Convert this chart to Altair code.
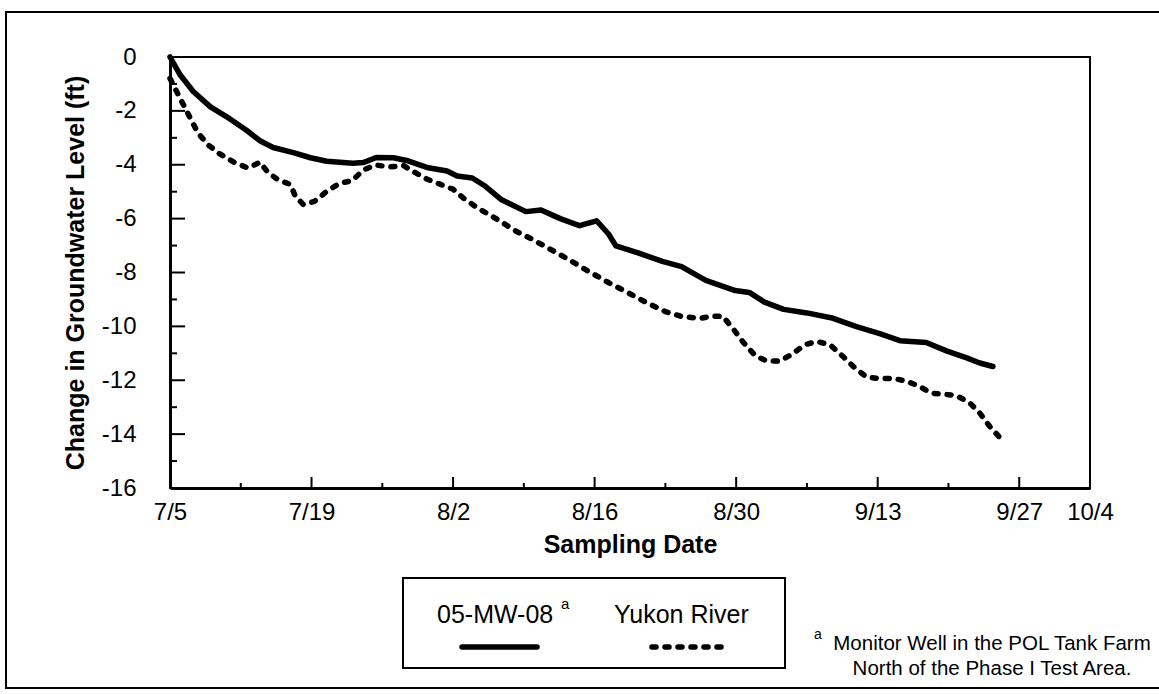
import altair as alt
import pandas as pd

# Change in groundwater level (ft) at monitor well 05-MW-08, by days after 7/5
MW08_DAY = [0, 1.0, 2.3, 4.0, 5.9, 7.6, 8.9, 10.2, 12.2, 13.9, 15.5, 18.1, 19.1,
            20.4, 22.1, 23.4, 25.4, 27.4, 28.4, 29.9, 31.2, 32.8, 35.2, 36.7,
            38.6, 40.5, 42.2, 43.4, 44.1, 46.3, 48.7, 50.6, 53.0, 55.9, 57.3,
            58.8, 60.7, 63.0, 65.6, 67.9, 70.2, 72.2, 74.8, 76.8, 78.8, 80.1, 81.4]
MW08_FT = [0.0, -0.66, -1.28, -1.85, -2.29, -2.73, -3.11, -3.36, -3.55, -3.74,
           -3.87, -3.94, -3.92, -3.73, -3.74, -3.84, -4.10, -4.23, -4.42, -4.49,
           -4.80, -5.30, -5.74, -5.68, -6.00, -6.26, -6.08, -6.58, -7.01, -7.27,
           -7.59, -7.78, -8.29, -8.67, -8.74, -9.10, -9.37, -9.50, -9.70, -10.01,
           -10.27, -10.53, -10.60, -10.91, -11.17, -11.36, -11.49]

# Change in Yukon River stage (ft), same day offsets
YUKON_DAY = [0, 1.0, 1.5, 2.1, 2.8, 3.8, 4.9, 6.3, 7.7, 8.9, 9.7, 10.7, 11.9,
             12.4, 13.2, 14.3, 15.5, 16.8, 18.0, 19.1, 20.3, 21.8, 23.1, 24.2,
             25.4, 26.7, 28.0, 29.0, 30.4, 31.9, 34.3, 35.7, 37.2, 39.6, 41.0,
             43.4, 45.3, 47.2, 49.0, 50.5, 52.4, 53.6, 54.7, 55.7, 56.7, 57.9,
             59.0, 60.3, 61.5, 62.8, 64.0, 65.3, 66.6, 67.8, 68.9, 70.2, 71.5,
             72.7, 74.0, 75.3, 76.5, 77.8, 79.1, 80.1, 81.1, 82.3]
YUKON_FT = [-0.80, -1.53, -1.90, -2.34, -2.84, -3.27, -3.59, -3.90, -4.12, -3.91,
            -4.29, -4.56, -4.73, -5.17, -5.48, -5.36, -4.99, -4.68, -4.60, -4.20,
            -4.01, -4.08, -4.03, -4.28, -4.53, -4.72, -4.91, -5.23, -5.60, -5.92,
            -6.48, -6.74, -7.05, -7.55, -7.87, -8.38, -8.75, -9.13, -9.45, -9.62,
            -9.71, -9.62, -9.63, -10.09, -10.59, -11.09, -11.28, -11.29, -11.04,
            -10.68, -10.56, -10.69, -11.13, -11.56, -11.88, -11.94, -11.93, -12.02,
            -12.20, -12.48, -12.52, -12.57, -12.84, -13.22, -13.72, -14.22]

# Axis ticks: labelled dates (days after 7/5) and depths
X_LABEL_DAYS = [0, 14, 28, 42, 56, 70, 84, 91]
X_MAJOR_TICKS = [14, 28, 42, 56, 70, 84]
X_MINOR_TICKS = [7, 21, 35, 49, 63, 77]
Y_LABELS = [0, -2, -4, -6, -8, -10, -12, -14, -16]
Y_MAJOR_TICKS = [-2, -4, -6, -8, -10, -12, -14]
Y_MINOR_TICKS = [-1, -3, -5, -7, -9, -11, -13, -15]

SERIES_NAMES = ["05-MW-08", "Yukon River"]
FOOTNOTE = ["Monitor Well in the POL Tank Farm", "North of the Phase I Test Area."]

W, H = 920, 431
FONT = "Liberation Sans"

mw = pd.DataFrame({"day": MW08_DAY, "ft": MW08_FT})
yk = pd.DataFrame({"day": YUKON_DAY, "ft": YUKON_FT})
one = alt.Data(values=[{}])

x_scale = alt.Scale(domain=[0, 91], nice=False, zero=False)
y_scale = alt.Scale(domain=[-16, 0], nice=False, zero=False)

x_axis = alt.Axis(
    values=X_LABEL_DAYS,
    labelExpr="timeFormat(datetime(1999, 6, 5 + datum.value), '%-m/%-d')",
    ticks=False, grid=False, labelFlush=False, labelOverlap=False,
    labelPadding=12, title="Sampling Date", titlePadding=8,
)
y_axis = alt.Axis(
    values=Y_LABELS, labelExpr="'' + datum.value",
    ticks=False, grid=False, labelFlush=False,
    labelOverlap=False, labelPadding=34,
    title="Change in Groundwater Level (ft)", titlePadding=13,
)

well = alt.Chart(mw).mark_line(
    color="black", strokeWidth=5.5, strokeJoin="round", strokeCap="round"
).encode(
    x=alt.X("day:Q", scale=x_scale, axis=x_axis),
    y=alt.Y("ft:Q", scale=y_scale, axis=y_axis),
)

river = alt.Chart(yk).mark_line(
    color="black", strokeWidth=5.5, strokeDash=[4, 9], strokeCap="round"
).encode(x="day:Q", y="ft:Q")

# Inward-pointing tick marks
x_major = alt.Chart(pd.DataFrame({"day": X_MAJOR_TICKS})).mark_rule(
    color="black", strokeWidth=2).encode(x="day:Q", y=alt.value(H), y2=alt.value(H - 11))
x_minor = alt.Chart(pd.DataFrame({"day": X_MINOR_TICKS})).mark_rule(
    color="black", strokeWidth=2).encode(x="day:Q", y=alt.value(H), y2=alt.value(H - 5))
y_major = alt.Chart(pd.DataFrame({"ft": Y_MAJOR_TICKS})).mark_rule(
    color="black", strokeWidth=2).encode(y="ft:Q", x=alt.value(0), x2=alt.value(15))
y_minor = alt.Chart(pd.DataFrame({"ft": Y_MINOR_TICKS})).mark_rule(
    color="black", strokeWidth=2).encode(y="ft:Q", x=alt.value(0), x2=alt.value(7))

# Page frame and legend box
frame = alt.Chart(one).mark_rect(
    fill="white", fillOpacity=0, stroke="black", strokeWidth=2
).encode(x=alt.value(-164), x2=alt.value(1010), y=alt.value(-45), y2=alt.value(631))

legend_box = alt.Chart(one).mark_rect(
    fill="white", stroke="black", strokeWidth=2
).encode(x=alt.value(233), x2=alt.value(615), y=alt.value(521), y2=alt.value(611))


def text(s, x, y, size, align="left"):
    return alt.Chart(one).mark_text(
        text=s, font=FONT, fontSize=size, align=align, baseline="alphabetic",
        color="black"
    ).encode(x=alt.value(x), y=alt.value(y))


legend_well = text(SERIES_NAMES[0], 267, 566, 25)
legend_sup = text("a", 391, 552, 15)
legend_river = text(SERIES_NAMES[1], 444, 566, 25)
legend_solid = alt.Chart(one).mark_rule(
    color="black", strokeWidth=5.5, strokeCap="round"
).encode(x=alt.value(292), x2=alt.value(367), y=alt.value(590))
legend_dots = alt.Chart(one).mark_rule(
    color="black", strokeWidth=5.5, strokeDash=[4, 9], strokeCap="round"
).encode(x=alt.value(482), x2=alt.value(556), y=alt.value(590))

foot_sup = text("a", 644, 582, 14)
foot_1 = text(FOOTNOTE[0], 822, 593, 20.5, align="center")
foot_2 = text(FOOTNOTE[1], 822, 618, 20.5, align="center")

chart = alt.layer(
    frame, river, well, x_major, x_minor, y_major, y_minor,
    legend_box, legend_well, legend_sup, legend_river, legend_solid, legend_dots,
    foot_sup, foot_1, foot_2,
).properties(
    width=W, height=H,
    autosize="none",
    padding={"left": 170, "top": 57, "right": 69, "bottom": 206},
    background="white",
).configure_view(
    stroke="black", strokeWidth=2
).configure_axis(
    domainColor="black", domainWidth=3,
    labelFont=FONT, labelFontSize=24, labelColor="black",
    titleFont=FONT, titleFontSize=25, titleFontWeight="bold", titleColor="black",
)

chart.save("out.html", embed_options={"renderer": "svg", "actions": False})
